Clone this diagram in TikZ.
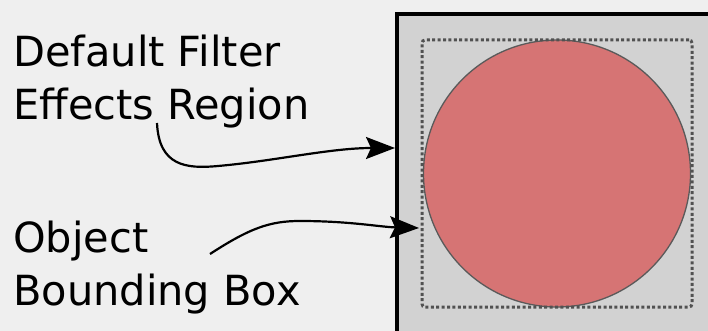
\documentclass[tikz,border=0pt]{standalone}
\usepackage{fontspec}
\setmainfont{DejaVu Sans}
\usetikzlibrary{arrows.meta}
\definecolor{pagegray}{HTML}{EFEFEF}
\definecolor{regiongray}{HTML}{D2D2D2}
\definecolor{objred}{HTML}{D67474}
\definecolor{edgegray}{HTML}{5A5A5A}

\begin{document}
\begin{tikzpicture}[x=1pt, y=-1pt]
    % Styles for labels, shapes and arrows
    \tikzstyle{label} = [anchor=base west, inner sep=0pt, align=left, font=\fontsize{41.5}{53}\selectfont]
    \tikzstyle{regionbox} = [rectangle, draw=black, fill=regiongray, line width=4pt, inner sep=0pt, outer sep=0pt, anchor=north west, minimum width=340pt, minimum height=340pt]
    \tikzstyle{bboxline} = [rectangle, draw=edgegray!90!black, line width=3pt, rounded corners=3pt, dash pattern=on 3pt off 2.4pt, inner sep=0pt, minimum width=270pt, minimum height=267pt]
    \tikzstyle{object} = [circle, draw=edgegray, fill=objred, line width=1.3pt, inner sep=0pt, minimum size=267pt]
    \tikzstyle{arrow} = [line width=2.2pt, -{Stealth[length=29pt, width=22pt, inset=5pt]}]

    \useasboundingbox[fill=pagegray] (0,0) rectangle (708,331);
    \clip (0,0) rectangle (708,331);

  % Shapes with explicit coordinates
    \node[regionbox] (region) at (397,14) {};
    \node[object] (obj) at (557,173.5) {};
    \node[bboxline] (bbox) at (557,173.5) {};

  % Labels (base anchor sits on the last line)
    \node[label] (filterlbl) at (13,120) {Default Filter\\Effects Region};
    \node[label] (bboxlbl) at (13,305) {Object\\Bounding Box};

  % Arrow ends
    \coordinate (from1) at (157,123);
    \coordinate (to1) at (395,148);
    \coordinate (from2) at (210,254);
    \coordinate (to2) at (419,228);

  % Curved arrows
    \draw[arrow] (from1) .. controls (159,166) and (186,169) .. (218,166)
        .. controls (275,161) and (330,148) .. (to1);
    \draw[arrow] (from2) .. controls (250,228) and (270,221) .. (300,221)
        .. controls (350,221) and (380,227) .. (to2);

\end{tikzpicture}
\end{document}
